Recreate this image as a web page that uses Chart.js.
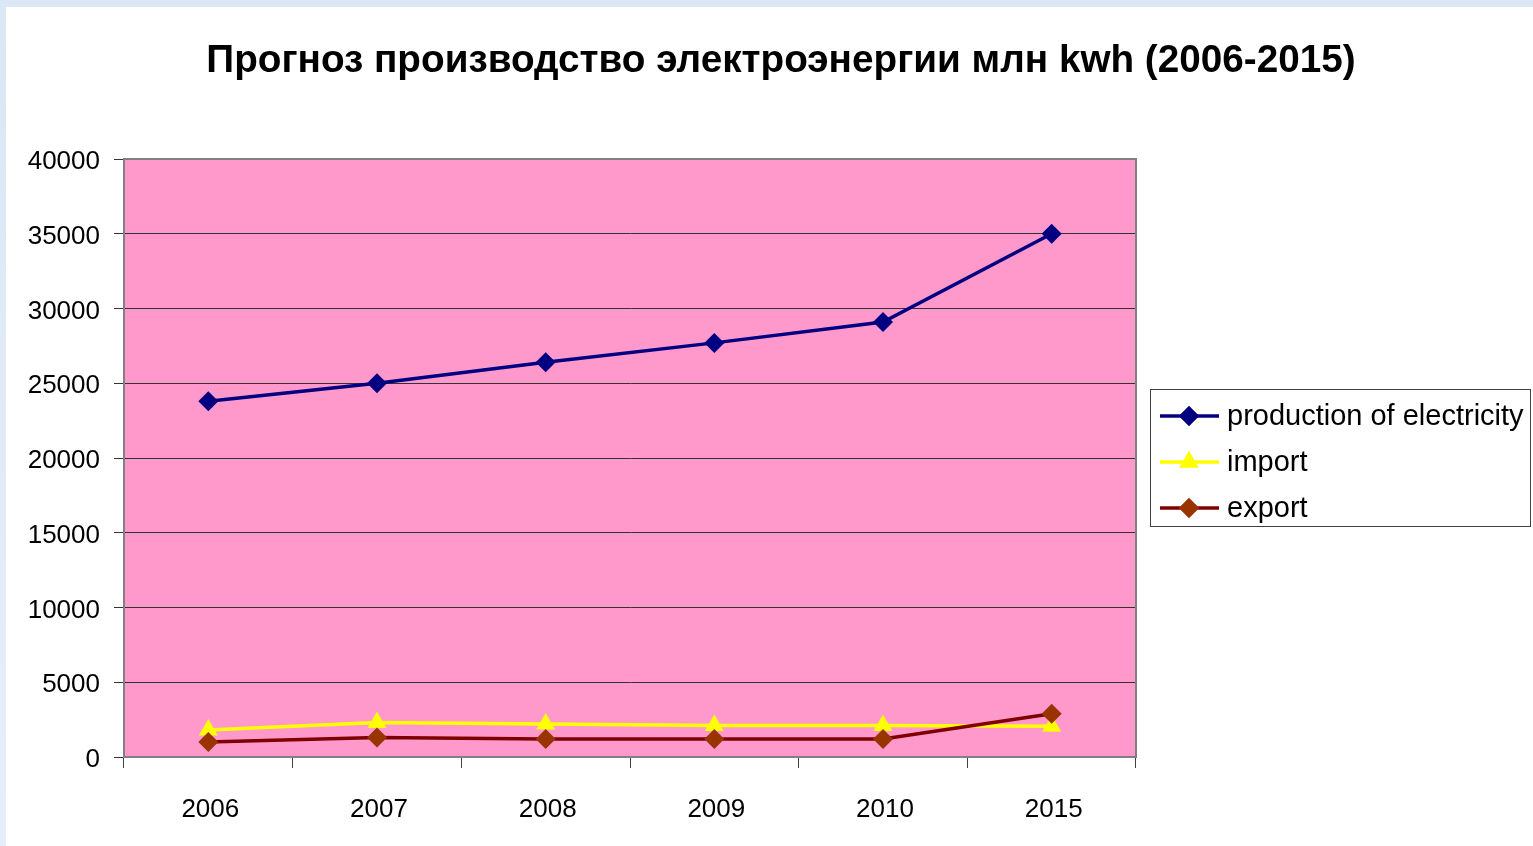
<!DOCTYPE html>
<html>
<head>
<meta charset="utf-8">
<script src="https://cdn.jsdelivr.net/npm/chart.js@4/dist/chart.umd.min.js"></script>
<style>
  html, body { margin: 0; padding: 0; background: #ffffff; overflow: hidden; }
  canvas { display: block; }
</style>
</head>
<body>
<canvas id="c" width="1533" height="846"></canvas>
<script>
// Forecast of electricity production, million kWh
const years = ['2006', '2007', '2008', '2009', '2010', '2015'];
const production = [23800, 25000, 26400, 27700, 29100, 35000];
const importVals = [1800, 2300, 2200, 2100, 2100, 2050];
const exportVals = [1000, 1300, 1200, 1200, 1200, 2900];
const yMin = 0, yMax = 40000, yStep = 5000;
const seriesNames = ['production of electricity', 'import', 'export'];
const titleText = 'Прогноз производство электроэнергии млн kwh (2006-2015)';

const FONT = '"Liberation Sans", Arial, sans-serif';

// page frame + pink plot background
const backdrop = {
  id: 'backdrop',
  beforeDraw(chart) {
    const { ctx, width, height, chartArea: a } = chart;
    ctx.save();
    const g = ctx.createLinearGradient(0, 0, 0, height);
    g.addColorStop(0, '#dbe7f6');
    g.addColorStop(1, '#e6eef9');
    ctx.fillStyle = g;
    ctx.fillRect(0, 0, width, height);
    ctx.fillStyle = '#ffffff';
    ctx.fillRect(6, 7, width - 6, height - 7);
    ctx.fillStyle = '#ff99cc';
    ctx.fillRect(a.left, a.top, a.right - a.left, a.bottom - a.top);
    ctx.restore();
  },
  beforeDatasetsDraw(chart) {
    const { ctx, chartArea: a } = chart;
    ctx.save();
    ctx.strokeStyle = '#808080';
    ctx.lineWidth = 2;
    ctx.strokeRect(a.left, a.top, a.right - a.left, a.bottom - a.top);
    ctx.restore();
  }
};

// chart heading
const heading = {
  id: 'heading',
  afterDraw(chart) {
    const { ctx } = chart;
    ctx.save();
    ctx.fillStyle = '#000000';
    ctx.font = 'bold 38.7px ' + FONT;
    ctx.textAlign = 'center';
    ctx.textBaseline = 'middle';
    ctx.fillText(titleText, 781, 61);
    ctx.restore();
  }
};

// boxed legend with line + marker samples
const boxLegend = {
  id: 'boxLegend',
  afterDraw(chart) {
    const { ctx } = chart;
    const x0 = 1150, y0 = 389, w = 380, h = 137;
    ctx.save();
    ctx.fillStyle = '#ffffff';
    ctx.fillRect(x0, y0, w, h);
    ctx.strokeStyle = '#404040';
    ctx.lineWidth = 1;
    ctx.strokeRect(x0 + 0.5, y0 + 0.5, w, h);
    chart.data.datasets.forEach((ds, i) => {
      const cy = 416 + i * 46;
      ctx.strokeStyle = ds.borderColor;
      ctx.lineWidth = ds.borderWidth;
      ctx.beginPath();
      ctx.moveTo(1160, cy);
      ctx.lineTo(1219, cy);
      ctx.stroke();
      ctx.fillStyle = ds.pointBackgroundColor;
      Chart.helpers.drawPoint(ctx, {
        pointStyle: ds.pointStyle,
        radius: ds.pointRadius,
        borderWidth: 0,
        rotation: 0
      }, 1189, cy);
      ctx.fill();
      ctx.fillStyle = '#000000';
      ctx.font = '29px ' + FONT;
      ctx.textAlign = 'left';
      ctx.textBaseline = 'middle';
      ctx.fillText(seriesNames[i], 1227, cy + 1);
    });
    ctx.restore();
  }
};

new Chart(document.getElementById('c'), {
  type: 'line',
  data: {
    labels: years,
    datasets: [
      {
        label: seriesNames[0],
        data: production,
        borderColor: '#000080',
        borderWidth: 3.5,
        pointStyle: 'rectRot',
        pointRadius: 10,
        pointBackgroundColor: '#000080',
        pointBorderWidth: 0,
        order: 2
      },
      {
        label: seriesNames[1],
        data: importVals,
        borderColor: '#ffff00',
        borderWidth: 3.5,
        pointStyle: 'triangle',
        pointRadius: 11,
        pointBackgroundColor: '#ffff00',
        pointBorderWidth: 0,
        order: 1
      },
      {
        label: seriesNames[2],
        data: exportVals,
        borderColor: '#800000',
        borderWidth: 3.5,
        pointStyle: 'rectRot',
        pointRadius: 10,
        pointBackgroundColor: '#993300',
        pointBorderWidth: 0,
        order: 0
      }
    ]
  },
  options: {
    responsive: false,
    animation: false,
    devicePixelRatio: 1,
    layout: { padding: { top: 159, right: 397, left: 0, bottom: 0 } },
    plugins: {
      legend: { display: false },
      title: { display: false },
      tooltip: { enabled: false }
    },
    elements: { line: { tension: 0 } },
    scales: {
      x: {
        type: 'category',
        offset: true,
        grid: { offset: true, drawOnChartArea: false, color: '#404040', tickLength: 11 },
        border: { color: '#808080', width: 2 },
        ticks: { color: '#000000', font: { family: FONT, size: 26 }, padding: 26, maxRotation: 0, labelOffset: 2 },
        afterFit(s) { s.height = 89; }
      },
      y: {
        min: yMin,
        max: yMax,
        grid: { color: '#333333', tickLength: 10 },
        border: { color: '#808080', width: 2 },
        ticks: {
          stepSize: yStep,
          color: '#000000',
          font: { family: FONT, size: 26 },
          padding: 14,
          labelOffset: 3,
          callback: v => String(v)
        },
        afterFit(s) { s.width = 124; }
      }
    }
  },
  plugins: [backdrop, heading, boxLegend]
});
</script>
</body>
</html>
